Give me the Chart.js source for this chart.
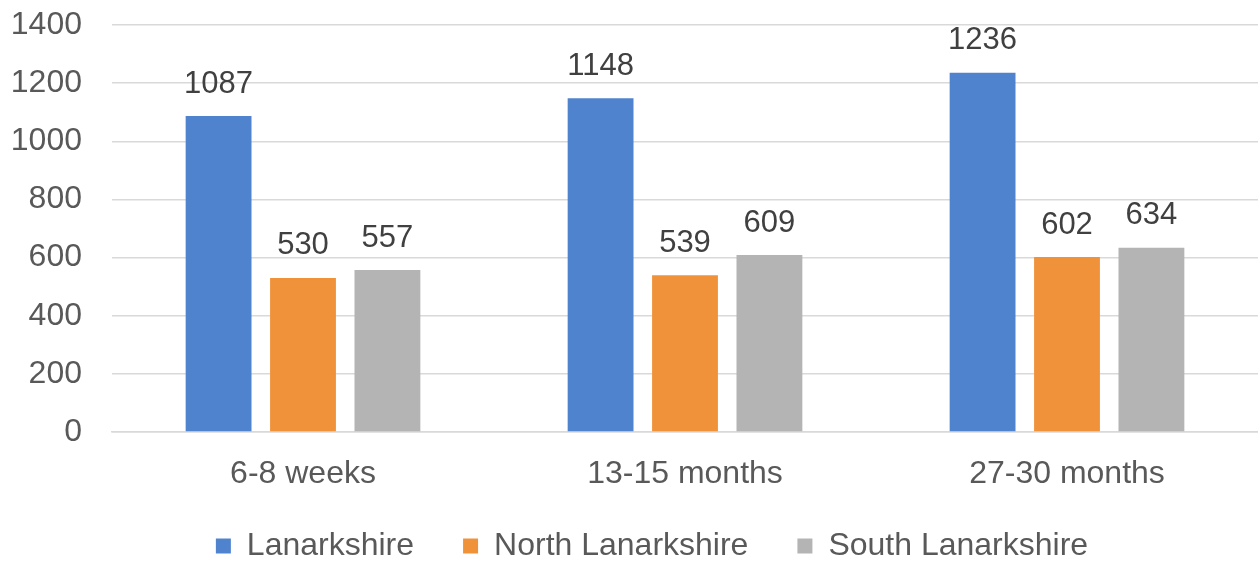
<!DOCTYPE html>
<html>
<head>
<meta charset="utf-8">
<script src="https://cdn.jsdelivr.net/npm/chart.js@4"></script>
<style>
  html, body { margin: 0; padding: 0; background: #fff; }
  #wrap { width: 1258px; height: 561px; }
</style>
</head>
<body>
<div id="wrap"><canvas id="barChart"></canvas></div>
<script>
// ── Chart Data ─────────────────────────────────────────────
const categories = ['6-8 weeks', '13-15 months', '27-30 months'];
const lanarkshire = [1087, 1148, 1236];
const northLanarkshire = [530, 539, 602];
const southLanarkshire = [557, 609, 634];
const yTicks = [0, 200, 400, 600, 800, 1000, 1200, 1400];

const FONT = '"Liberation Sans", Arial, sans-serif';

// ── Value labels above bars ────────────────────────────────
const valueLabels = {
  id: 'valueLabels',
  afterDatasetsDraw(chart) {
    const ctx = chart.ctx;
    ctx.save();
    ctx.font = '31px ' + FONT;
    ctx.fillStyle = '#404040';
    ctx.textAlign = 'center';
    ctx.textBaseline = 'middle';
    chart.data.datasets.forEach((ds, i) => {
      chart.getDatasetMeta(i).data.forEach((bar, j) => {
        ctx.fillText(ds.data[j], bar.x, bar.y - 32);
      });
    });
    ctx.restore();
  }
};

// nudge the legend right and up so it sits like the original
const legendShift = {
  id: 'legendShift',
  afterLayout(chart) {
    chart.legend.left += 46;
    chart.legend.top -= 13;
    chart.legend.bottom -= 13;
  }
};

// ── Bar Chart ──────────────────────────────────────────────
const ctx = document.getElementById('barChart').getContext('2d');
const barChart = new Chart(ctx, {
  type: 'bar',
  data: {
    labels: categories,
    datasets: [
      { label: 'Lanarkshire', data: lanarkshire, backgroundColor: '#5083ce' },
      { label: 'North Lanarkshire', data: northLanarkshire, backgroundColor: '#f0923a' },
      { label: 'South Lanarkshire', data: southLanarkshire, backgroundColor: '#b4b4b4' },
    ]
  },
  options: {
    responsive: true,
    maintainAspectRatio: false,
    animation: false,
    layout: { padding: { top: 25, right: 0, bottom: -24, left: 0 } },
    datasets: {
      bar: { categoryPercentage: 0.663, barPercentage: 0.78 }
    },
    plugins: {
      legend: {
        position: 'bottom',
        labels: {
          color: '#595959',
          font: { family: FONT, size: 32 },
          boxWidth: 15,
          boxHeight: 15,
          padding: 49,
        }
      },
      tooltip: { enabled: false }
    },
    scales: {
      x: {
        afterFit: axis => { axis.height = 62; },
        grid: { display: false, drawTicks: false },
        border: { display: true, color: '#d9d9d9', width: 1.5 },
        ticks: { color: '#595959', font: { family: FONT, size: 32 }, padding: 23 }
      },
      y: {
        min: 0,
        max: 1400,
        afterBuildTicks: axis => { axis.ticks = yTicks.map(v => ({ value: v })); },
        afterFit: axis => { axis.width = 112; axis.paddingTop = 0; axis.paddingBottom = 0; },
        grid: { color: '#d9d9d9', lineWidth: 1.5, drawTicks: false },
        border: { display: false },
        ticks: {
          color: '#595959',
          font: { family: FONT, size: 32 },
          padding: 30,
          callback: val => String(val)
        }
      }
    }
  },
  plugins: [valueLabels, legendShift]
});
</script>
</body>
</html>
